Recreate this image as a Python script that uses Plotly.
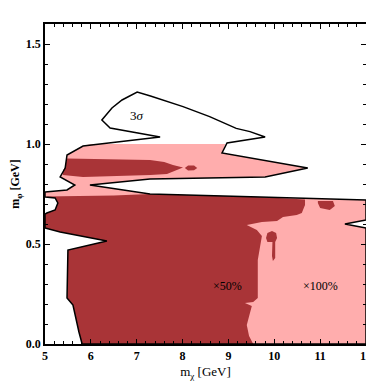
import plotly.graph_objects as go

# 3 sigma contour (closed, in GeV)
sig_x = [5.81, 5.74, 5.61, 5.48, 5.50, 6.35, 5.33, 5.0, 5.0, 5.04, 5.22, 5.28, 5.22, 5.0, 5.0,
         5.48, 5.65, 5.33, 5.44, 5.48, 5.83, 6.70, 7.51, 6.42, 6.24, 6.46, 6.68, 7.01, 7.30,
         8.01, 8.59, 9.17, 9.47, 9.80, 8.97, 8.86, 10.73, 9.80, 7.29, 5.98, 7.29, 9.69, 12.0,
         12.0, 11.54, 12.0, 12.0, 5.81]
sig_y = [0.0, 0.06, 0.195, 0.23, 0.47, 0.515, 0.56, 0.58, 0.65, 0.655, 0.67, 0.705, 0.73, 0.735, 0.76,
         0.77, 0.795, 0.835, 0.88, 0.945, 0.99, 1.015, 1.035, 1.08, 1.12, 1.18, 1.22, 1.26, 1.24,
         1.187, 1.137, 1.078, 1.062, 1.035, 1.005, 0.955, 0.88, 0.835, 0.825, 0.795, 0.75, 0.735, 0.72,
         0.62, 0.60, 0.58, 0.0, 0.0]

# x100% region
pink_x = [5.81, 5.74, 5.61, 5.48, 5.50, 6.35, 5.33, 5.0, 5.0, 5.04, 5.22, 5.28, 5.22, 5.0, 5.0,
          5.48, 5.65, 5.33, 5.44, 5.48, 5.83, 6.0, 8.93, 8.86, 10.73, 9.80, 7.29, 5.98, 7.29,
          9.69, 12.0, 12.0, 11.54, 12.0, 12.0]
pink_y = [0.0, 0.06, 0.195, 0.23, 0.47, 0.515, 0.56, 0.58, 0.65, 0.655, 0.67, 0.705, 0.73, 0.735, 0.76,
          0.77, 0.795, 0.835, 0.88, 0.945, 0.99, 1.0, 1.0, 0.955, 0.88, 0.835, 0.825, 0.795, 0.75,
          0.735, 0.72, 0.62, 0.60, 0.58, 0.0]

# x50% region (main)
dark_x = [5.81, 5.74, 5.61, 5.48, 5.50, 6.35, 5.33, 5.0, 5.0, 5.04, 5.22, 5.28, 5.22, 5.0,
          6.5, 7.29, 9.69, 10.67, 10.67, 10.60, 10.49, 10.19, 10.06, 9.73, 9.40, 9.62, 9.73, 9.69,
          9.64, 9.64, 9.54, 9.36, 9.51, 9.40, 9.45, 9.54]
dark_y = [0.0, 0.06, 0.195, 0.23, 0.47, 0.515, 0.56, 0.58, 0.65, 0.655, 0.67, 0.705, 0.73, 0.737,
          0.742, 0.75, 0.735, 0.722, 0.695, 0.655, 0.645, 0.635, 0.615, 0.61, 0.595, 0.57, 0.54, 0.495,
          0.42, 0.23, 0.21, 0.205, 0.19, 0.095, 0.04, 0.0]

# x50% small patches
patch_x = [
    [10.95, 11.28, 11.32, 11.21, 11.0, 10.95],
    [9.82, 9.85, 9.95, 10.04, 10.06, 10.02, 10.02, 9.97, 9.95, 9.96, 9.85],
    [5.48, 6.5, 7.29, 7.6, 7.79, 8.01, 7.66, 7.3, 5.83, 5.39, 5.40, 5.44, 5.46],
    [8.05, 8.12, 8.25, 8.32, 8.25, 8.12],
]
patch_y = [
    [0.715, 0.715, 0.69, 0.67, 0.68, 0.705],
    [0.53, 0.555, 0.565, 0.555, 0.53, 0.51, 0.43, 0.415, 0.44, 0.51, 0.51],
    [0.928, 0.925, 0.92, 0.91, 0.895, 0.882, 0.85, 0.845, 0.835, 0.845, 0.87, 0.885, 0.91],
    [0.88, 0.893, 0.892, 0.88, 0.869, 0.868],
]

PINK = "#FFADAD"
DARK = "#A93437"
SERIF = "Liberation Serif"

fig = go.Figure()
fig.add_trace(go.Scatter(x=pink_x, y=pink_y, fill="toself", fillcolor=PINK,
                         mode="lines", line=dict(width=0, color=PINK), hoverinfo="skip"))
fig.add_trace(go.Scatter(x=dark_x, y=dark_y, fill="toself", fillcolor=DARK,
                         mode="lines", line=dict(width=0, color=DARK), hoverinfo="skip"))
for px, py in zip(patch_x, patch_y):
    fig.add_trace(go.Scatter(x=px, y=py, fill="toself", fillcolor=DARK,
                             mode="lines", line=dict(width=0, color=DARK), hoverinfo="skip"))
fig.add_trace(go.Scatter(x=sig_x, y=sig_y, mode="lines",
                         line=dict(color="black", width=1.5), hoverinfo="skip"))

fig.add_annotation(x=7.0, y=1.145, text="3<i>σ</i>", showarrow=False,
                   font=dict(family=SERIF, size=13, color="black"))
fig.add_annotation(x=8.99, y=0.29, text="×50%", showarrow=False,
                   font=dict(family=SERIF, size=12, color="black"))
fig.add_annotation(x=11.0, y=0.29, text="×100%", showarrow=False,
                   font=dict(family=SERIF, size=12, color="black"))

axis_common = dict(showline=True, linecolor="black", linewidth=1.5, mirror="allticks",
                   ticks="inside", ticklen=5, tickcolor="black", showgrid=False, zeroline=False,
                   automargin=False, ticklabeloverflow="allow",
                   tickfont=dict(family=SERIF, size=12, color="black", weight="bold"))

fig.update_xaxes(range=[5, 12], dtick=1, tick0=5,
                 minor=dict(ticks="inside", dtick=0.2, ticklen=3, tickcolor="black"),
                 title=dict(text="m<sub>χ</sub> [GeV]", font=dict(family=SERIF, size=13, color="black"),
                            standoff=5),
                 **axis_common)
fig.update_yaxes(range=[0, 1.6], dtick=0.5, tick0=0, tickformat=".1f",
                 minor=dict(ticks="inside", dtick=0.1, ticklen=3, tickcolor="black"),
                 title=dict(text="<b>m<sub>φ</sub> [GeV]</b>", font=dict(family=SERIF, size=12, color="black"),
                            standoff=8),
                 **axis_common)

# page body adds an 8px margin all round, so the figure is shrunk to fit the window
fig.update_layout(width=366, height=375, showlegend=False,
                  plot_bgcolor="white", paper_bgcolor="white",
                  margin=dict(l=37, r=8, t=16, b=39))

fig.write_html("out.html")
